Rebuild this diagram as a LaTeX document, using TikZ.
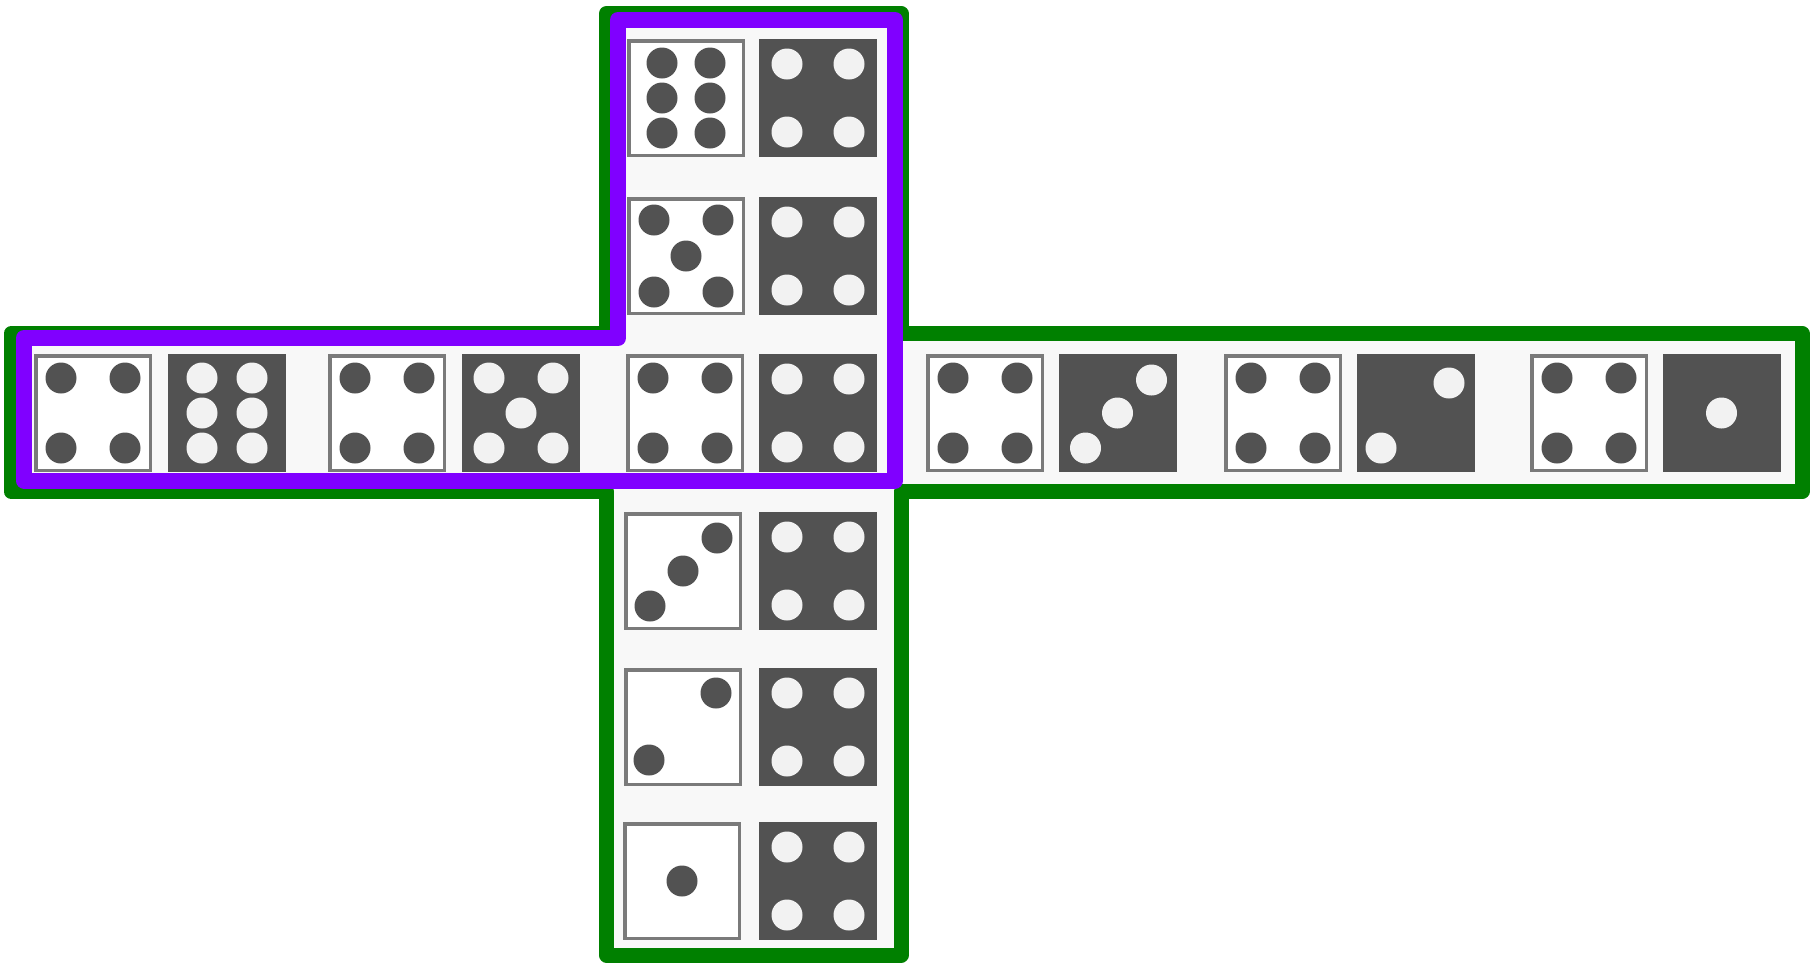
\documentclass[tikz,border=0pt]{standalone}
\definecolor{dicegray}{HTML}{525252}
\definecolor{rimgray}{HTML}{7A7A7A}
\definecolor{pipwhite}{HTML}{F2F2F2}
\definecolor{framegreen}{HTML}{008000}
\definecolor{framepurple}{HTML}{8000FF}
\definecolor{panelfill}{HTML}{F8F8F8}
\newcommand{\WhiteDie}[4]{%
  \node[wbox] (#1) at (#2,#3) {};
  \begin{scope}[shift={(#2,#3)}]
    \foreach \px/\py in #4 {\fill[darkpip] (\px,\py) circle (15.5pt);}
  \end{scope}}
\newcommand{\DarkDie}[4]{%
  \node[dbox] (#1) at (#2,#3) {};
  \begin{scope}[shift={(#2,#3)}]
    \foreach \px/\py in #4 {\fill[lightpip] (\px,\py) circle (15.5pt);}
  \end{scope}}
\def\POneW{0/0}
\def\PTwoW{-34/33,33/-34}
\def\PThreeW{-33/35,0/0,34/-33}
\def\PFourW{-32/-35,32/-35,-32/35,32/35}
\def\PFiveW{-32/-36,32/-36,0/0,-32/36,32/36}
\def\PSixW{-24/-35,24/-35,-24/0,24/0,-24/35,24/35}
\def\POneD{0/0}
\def\PTwoD{-35/35,33/-30}
\def\PThreeD{-32/35,0/0,34/-33}
\def\PFourD{-31/-34,31/-34,-31/34,31/34}
\def\PFiveD{-32/-35,32/-35,0/0,-32/35,32/35}
\def\PSixD{-25/-35,25/-35,-25/0,25/0,-25/35,25/35}
\begin{document}
\begin{tikzpicture}[x=1pt,y=-1pt,
  wbox/.style={draw=rimgray, line width=3.5pt, fill=white, minimum size=114.5pt, inner sep=0pt, shape=rectangle},
  dbox/.style={fill=dicegray, minimum size=118pt, inner sep=0pt, shape=rectangle},
  darkpip/.style={fill=dicegray},
  lightpip/.style={fill=pipwhite},
  greenframe/.style={draw=framegreen, line width=15pt, line join=round, line cap=round},
  purpleframe/.style={draw=framepurple, line width=16pt, line join=round, line cap=round}]
\useasboundingbox[fill=white] (0,0) rectangle (1812,978);
% panel background
\fill[panelfill] (11,333.5) -- (606.5,333.5) -- (606.5,13.5) -- (901,13.5) -- (901,333.5) -- (1802,333.5) -- (1802,491.5) -- (901,491.5) -- (901,955) -- (606.5,955) -- (606.5,491.5) -- (11,491.5) -- cycle;
% vertical column above
\WhiteDie{w1}{686}{98}{\PSixW}
\DarkDie{d1}{818}{98}{\PFourD}
\WhiteDie{w2}{686}{256}{\PFiveW}
\DarkDie{d2}{818}{256}{\PFourD}
% row
\WhiteDie{r1w}{93}{413}{\PFourW}
\DarkDie{r1d}{227}{413}{\PSixD}
\WhiteDie{r2w}{387}{413}{\PFourW}
\DarkDie{r2d}{521}{413}{\PFiveD}
\WhiteDie{r3w}{685}{413}{\PFourW}
\DarkDie{r3d}{818}{413}{\PFourD}
\WhiteDie{r4w}{985}{413}{\PFourW}
\DarkDie{r4d}{1117.5}{413}{\PThreeD}
\WhiteDie{r5w}{1283}{413}{\PFourW}
\DarkDie{r5d}{1416}{413}{\PTwoD}
\WhiteDie{r6w}{1589}{413}{\PFourW}
\DarkDie{r6d}{1721.5}{413}{\POneD}
% vertical column below
\WhiteDie{w4}{683}{571}{\PThreeW}
\DarkDie{d4}{818}{571}{\PFourD}
\WhiteDie{w5}{683}{727}{\PTwoW}
\DarkDie{d5}{818}{727}{\PFourD}
\WhiteDie{w6}{682}{881}{\POneW}
\DarkDie{d6}{818}{881}{\PFourD}
% frames
\draw[greenframe] (11,333.5) -- (606.5,333.5) -- (606.5,13.5) -- (901,13.5) -- (901,333.5) -- (1802,333.5) -- (1802,491.5) -- (901,491.5) -- (901,955) -- (606.5,955) -- (606.5,491.5) -- (11,491.5) -- cycle;
\draw[purpleframe] (24,338) -- (618,338) -- (618,20) -- (895,20) -- (895,480.5) -- (24,480.5) -- cycle;
\end{tikzpicture}
\end{document}
